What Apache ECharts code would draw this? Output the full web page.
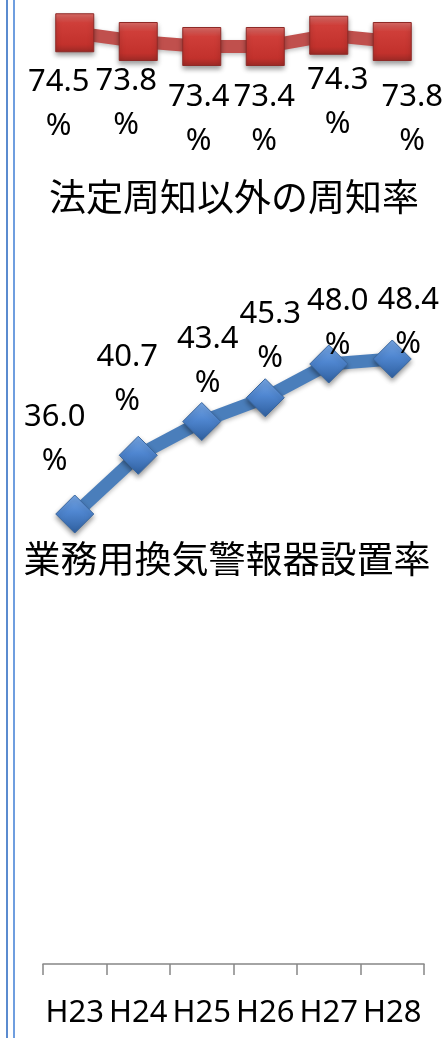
<!DOCTYPE html>
<html>
<head>
<meta charset="utf-8">
<script src="https://cdn.jsdelivr.net/npm/echarts@6/dist/echarts.min.js"></script>
<style>
  html, body { margin: 0; padding: 0; background: #ffffff; }
  #chart { width: 444px; height: 1038px; }
</style>
</head>
<body>
<div id="chart"></div>
<script>
// Fiscal years (Heisei era)
const years = ['H23', 'H24', 'H25', 'H26', 'H27', 'H28'];
// 法定周知以外の周知率 (%)
const noticeRate = [74.5, 73.8, 73.4, 73.4, 74.3, 73.8];
// 業務用換気警報器設置率 (%)
const alarmRate = [36.0, 40.7, 43.4, 45.3, 48.0, 48.4];
const noticeName = '法定周知以外の周知率';
const alarmName = '業務用換気警報器設置率';

// Label nudges (px) so each two-line value label sits clear of the line
const noticeLabelShift = [[-16, 71], [-12, 62], [-3, 73], [-1, 73], [9, 67], [20, 78]];
const alarmLabelShift = [[-20, -75], [-11, -76], [6, -60], [5, -62], [9, -41], [16, -37]];

const labelFont = { fontFamily: 'Noto Sans', fontSize: 31, lineHeight: 44, color: '#000000' };

function withLabels(values, shifts) {
  return values.map((v, i) => ({
    value: v,
    label: { offset: shifts[i] }
  }));
}

const chart = echarts.init(document.getElementById('chart'), null, { renderer: 'canvas' });

chart.setOption({
  animation: false,
  backgroundColor: '#ffffff',
  // plot area runs from the top edge down to the category axis
  grid: { left: 43, right: 20, top: 0, bottom: 74, containLabel: false },
  xAxis: {
    type: 'category',
    data: years,
    boundaryGap: true,
    axisLine: { lineStyle: { color: '#868686', width: 1.5 } },
    axisTick: { show: true, length: 11, lineStyle: { color: '#868686', width: 1.5 } },
    axisLabel: { fontFamily: 'Noto Sans', fontSize: 31, color: '#000000', margin: 34, interval: 0 }
  },
  yAxis: {
    type: 'value',
    min: 0,
    max: 77.12,
    show: false,
    splitLine: { show: false }
  },
  series: [
    {
      name: noticeName,
      type: 'line',
      data: withLabels(noticeRate, noticeLabelShift),
      symbol: 'rect',
      symbolSize: 38,
      lineStyle: { color: '#c0504d', width: 13,
        shadowColor: 'rgba(0,0,0,0.25)', shadowBlur: 4, shadowOffsetY: 2 },
      itemStyle: {
        color: new echarts.graphic.LinearGradient(0, 0, 0, 1, [
          { offset: 0, color: '#e0706c' },
          { offset: 0.25, color: '#cf3e39' },
          { offset: 0.8, color: '#c2312c' },
          { offset: 1, color: '#9c2a26' }
        ]),
        borderColor: '#8e2a27',
        borderWidth: 1,
        shadowColor: 'rgba(0,0,0,0.4)', shadowBlur: 5, shadowOffsetY: 3
      },
      label: Object.assign({
        show: true,
        position: 'inside',
        align: 'center',
        verticalAlign: 'middle',
        formatter: p => p.value.toFixed(1) + '\n%'
      }, labelFont),
      z: 3
    },
    {
      name: alarmName,
      type: 'line',
      data: withLabels(alarmRate, alarmLabelShift),
      symbol: 'diamond',
      symbolSize: 38,
      lineStyle: { color: '#4a7ebb', width: 13,
        shadowColor: 'rgba(0,0,0,0.25)', shadowBlur: 4, shadowOffsetY: 2 },
      itemStyle: {
        color: new echarts.graphic.LinearGradient(0, 0, 0, 1, [
          { offset: 0, color: '#78a8e6' },
          { offset: 0.45, color: '#4f86d0' },
          { offset: 1, color: '#2f5f9e' }
        ]),
        borderColor: '#3a679f',
        borderWidth: 1,
        shadowColor: 'rgba(0,0,0,0.4)', shadowBlur: 5, shadowOffsetY: 3
      },
      label: Object.assign({
        show: true,
        position: 'inside',
        align: 'center',
        verticalAlign: 'middle',
        formatter: p => p.value.toFixed(1) + '\n%'
      }, labelFont),
      z: 3
    }
  ],
  graphic: [
    // double rule along the left edge
    { type: 'rect', shape: { x: 6, y: 0, width: 2, height: 1038 }, style: { fill: '#5b8bcf' }, silent: true },
    { type: 'rect', shape: { x: 13, y: 0, width: 2, height: 1038 }, style: { fill: '#6f9edf' }, silent: true },
    // series captions
    {
      type: 'text', x: 234, y: 197,
      style: { text: noticeName, font: '37px "Noto Sans CJK JP"', fill: '#000000',
        textAlign: 'center', textVerticalAlign: 'middle' }
    },
    {
      type: 'text', x: 227, y: 559,
      style: { text: alarmName, font: '37px "Noto Sans CJK JP"', fill: '#000000',
        textAlign: 'center', textVerticalAlign: 'middle' }
    }
  ]
});
</script>
</body>
</html>
